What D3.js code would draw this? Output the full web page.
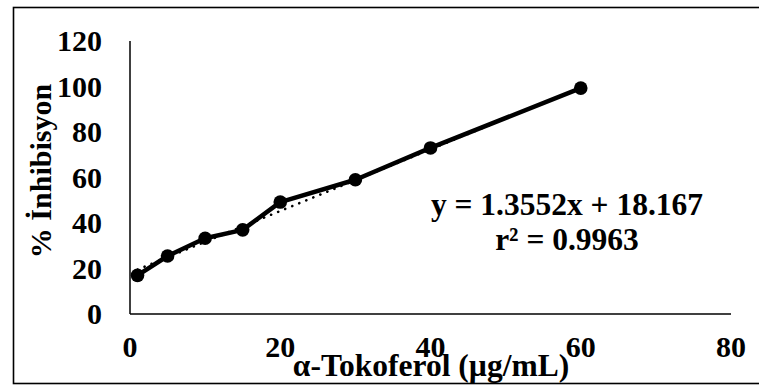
<!DOCTYPE html>
<html>
<head>
<meta charset="utf-8">
<script src="https://cdn.jsdelivr.net/npm/d3@7"></script>
<style>
  html, body { margin: 0; padding: 0; background: #fff; }
  svg { display: block; }
</style>
</head>
<body>
<svg id="chart" width="759" height="385"></svg>
<script>
// Data
const concentrations = [1, 5, 10, 15, 20, 30, 40, 60];
const inhibition = [17, 25.5, 33.3, 37, 49.2, 59, 73, 99.3];
const xTicks = [0, 20, 40, 60, 80];
const yTicks = [0, 20, 40, 60, 80, 100, 120];
const slope = 1.3552, intercept = 18.167;
const equationLines = ["y = 1.3552x + 18.167", "r² = 0.9963"];
const xTitle = "α-Tokoferol (µg/mL)";
const yTitle = "% İnhibisyon";

const FONT = "'Liberation Serif', 'Times New Roman', Times, 'DejaVu Serif', serif";

const svg = d3.select("#chart");

// outer chart border (clipped on right/bottom)
svg.append("rect")
  .attr("x", 13.5).attr("y", 7.5)
  .attr("width", 800).attr("height", 376)
  .attr("fill", "none").attr("stroke", "#000").attr("stroke-width", 1.6);

const x = d3.scaleLinear().domain([0, 80]).range([130, 731]);
const y = d3.scaleLinear().domain([0, 120]).range([314, 41]);

function txt(sel) {
  return sel.style("font-family", FONT).style("font-weight", "bold").attr("fill", "#000");
}

// axes lines
svg.append("line").attr("x1", x(0)).attr("x2", x(0)).attr("y1", y(120)).attr("y2", y(0))
  .attr("stroke", "#000").attr("stroke-width", 1.5);
svg.append("line").attr("x1", x(0)).attr("x2", x(80)).attr("y1", y(0)).attr("y2", y(0))
  .attr("stroke", "#000").attr("stroke-width", 1.5);

// y tick labels
txt(svg.append("g").selectAll("text").data(yTicks).join("text")
  .attr("x", 102).attr("y", d => y(d) + 10)
  .attr("text-anchor", "end")
  .style("font-size", "30px")
  .text(d => d));

// x tick labels
txt(svg.append("g").selectAll("text").data(xTicks).join("text")
  .attr("x", d => x(d)).attr("y", 357)
  .attr("text-anchor", "middle")
  .style("font-size", "30px")
  .text(d => d));

// trendline (dotted)
const tData = [d3.min(concentrations), d3.max(concentrations)];
svg.append("line")
  .attr("x1", x(tData[0])).attr("y1", y(slope * tData[0] + intercept))
  .attr("x2", x(tData[1])).attr("y2", y(slope * tData[1] + intercept))
  .attr("stroke", "#000").attr("stroke-width", 2.6)
  .attr("stroke-dasharray", "0.1,7.5").attr("stroke-linecap", "round");

// data line
const pts = concentrations.map((c, i) => [c, inhibition[i]]);
svg.append("path")
  .datum(pts)
  .attr("d", d3.line().x(d => x(d[0])).y(d => y(d[1])))
  .attr("fill", "none").attr("stroke", "#000").attr("stroke-width", 4.5)
  .attr("stroke-linejoin", "round");

svg.append("g").selectAll("circle").data(pts).join("circle")
  .attr("cx", d => x(d[0])).attr("cy", d => y(d[1]))
  .attr("r", 6.8).attr("fill", "#000");

// equation
txt(svg.append("g").selectAll("text").data(equationLines).join("text")
  .attr("x", 567).attr("y", (d, i) => 215 + i * 35)
  .attr("text-anchor", "middle")
  .style("font-size", "31.5px")
  .text(d => d));

// axis titles
txt(svg.append("text")
  .attr("x", 431).attr("y", 376)
  .attr("text-anchor", "middle")
  .style("font-size", "31.5px")
  .text(xTitle));

txt(svg.append("text")
  .attr("transform", "translate(51,171) rotate(-90)")
  .attr("text-anchor", "middle")
  .style("font-size", "30px")
  .text(yTitle));
</script>
</body>
</html>
